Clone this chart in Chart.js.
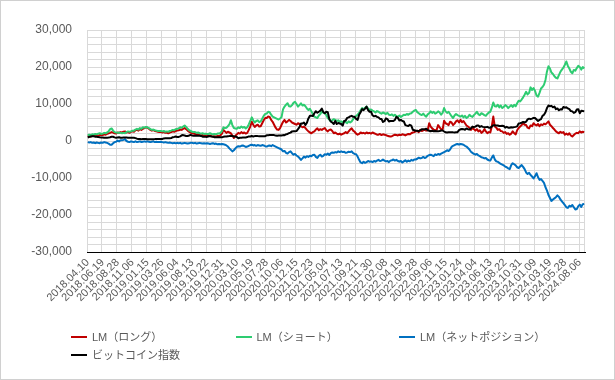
<!DOCTYPE html>
<html>
<head>
<meta charset="utf-8">
<script src="https://cdn.jsdelivr.net/npm/chart.js@4.4.1/dist/chart.umd.min.js"></script>
<style>
html,body{margin:0;padding:0;background:#fff;}
#wrap{position:relative;width:615px;height:380px;overflow:hidden;background:#fff;}
#c{position:absolute;left:0;top:0;}
#frame{position:absolute;left:0;top:0;width:615px;height:380px;box-sizing:border-box;border:1px solid #d0d0d0;pointer-events:none;}
.lg{position:absolute;height:14px;line-height:14px;font-family:"Liberation Sans","Noto Sans CJK JP",sans-serif;font-size:11px;color:#595959;white-space:nowrap;}
.sw{position:absolute;width:16px;height:2px;}
</style>
</head>
<body>
<div id="wrap">
<canvas id="c" width="615" height="380"></canvas>
<div id="legend"></div>
<div id="frame"></div>
</div>
<script>
// ---- data (weekly, from 2018.04.10) ----
const startDate = "2018.04.10";
const tickLabels = ["2018.04.10","2018.06.19","2018.08.28","2018.11.06","2019.01.15","2019.03.26","2019.06.04","2019.08.13","2019.10.22","2019.12.31","2020.03.10","2020.05.19","2020.07.28","2020.10.06","2020.12.15","2021.02.23","2021.05.04","2021.07.13","2021.09.21","2021.11.30","2022.02.08","2022.04.19","2022.06.28","2022.09.06","2022.11.15","2023.01.24","2023.04.04","2023.06.13","2023.08.22","2023.10.31","2024.01.09","2024.03.19","2024.05.28","2024.08.06"];
const seriesNames = ["LM（ロング）","LM（ショート）","LM（ネットポジション）","ビットコイン指数"];

const lmLong = [
1200,1300,1200,1400,1350,1300,1500,1450,1600,1700,
1600,1800,1700,1900,2100,2200,2400,2300,2100,2000,
2300,2200,2400,2300,2500,2600,2300,2400,2200,2500,
2600,2500,2900,3000,2800,3200,3000,3300,3500,3700,
3600,3300,3000,2800,3000,2700,2600,2500,2400,2500,
2300,2400,2200,2300,2100,2300,2400,2600,2500,2700,
2800,2900,3100,3000,3300,3500,3200,2800,2500,2300,
2100,2000,1900,1700,1800,1600,1500,1600,1400,1500,
1400,1300,1500,1300,1200,1300,1200,1400,1300,1500,
2000,3000,2600,2200,2500,2300,2100,1500,800,1400,
1800,2200,2000,2400,2100,2300,2000,2200,3000,3900,
5200,4400,3800,4200,4400,3900,4000,4800,5600,6200,
6200,6600,6500,5700,5200,4400,3600,3100,3000,3500,
4400,5200,5700,5000,5300,5700,5400,5000,4800,4600,
4400,4800,4600,4000,3700,3900,3500,3000,2600,2300,
2100,2400,2600,3100,3400,2900,3200,3000,3300,3500,
2900,2600,3000,3100,2700,2100,2300,2000,1800,2000,
1700,1900,2100,2400,2100,2600,3100,3400,2800,2500,
2000,1700,1900,2300,2100,2200,2000,2300,2100,2200,
2000,2300,2100,1900,1700,1700,1900,1600,1800,1700,
1600,1400,1300,1200,1300,1500,1700,1600,1500,1700,
1600,1800,1700,1500,1700,1900,1800,2100,2300,2400,
2600,2700,2400,3000,2700,2900,3100,2800,2900,4800,
3900,3400,3100,2900,3000,4300,3700,3200,3000,5500,
4800,4600,4300,5200,5000,4300,4700,5300,5600,5000,
5700,5100,5400,4800,4200,3900,3600,3000,3500,3200,
2800,3200,2600,2900,2200,2500,3200,2600,2100,2400,
2300,4000,6600,3900,3600,3000,3200,2700,2600,2200,
2400,1900,2100,1700,2000,2600,2100,1800,2900,3500,
3900,4300,4800,4400,4300,3600,3400,4200,4000,4800,
4400,4200,4600,4000,4500,4300,4700,4500,4900,5300,
4400,4000,3500,3100,2600,2300,2100,2500,2200,2400,
1700,2000,1700,2100,1500,1200,1600,2000,2200,2100,
2600,2300,2500,2400];

const lmShort = [
1500,1700,1600,1800,1700,1900,1800,2000,2100,1900,
2000,2200,2100,2300,2600,3200,3400,2800,2400,2300,
2200,2300,2200,2100,2200,2100,2400,2600,2500,2600,
2800,2800,3100,3300,3100,3500,3300,3700,3600,3800,
3700,3500,3200,3000,3100,2900,2800,2700,2700,2700,
2600,2700,2500,2600,2500,2700,2800,3000,2900,3200,
3300,3400,3700,3600,3900,4200,3800,3300,2900,2700,
2500,2400,2400,2200,2300,2100,2000,2100,1900,2000,
1900,1900,2100,1900,1800,1900,1800,2000,2000,2200,
2700,3700,3500,3600,4000,4500,5600,4300,3500,3400,
3300,3700,3500,3900,3600,3800,3400,3700,4500,5400,
6400,5600,5000,5400,5600,5100,5300,6000,6800,7300,
7400,7900,7800,7100,6600,6400,6200,6000,5800,6100,
6500,8600,9300,9800,10200,9400,9300,9700,10300,10600,
10000,9300,9700,10200,9600,9800,9400,8800,8400,8700,
8000,7200,6600,6400,6200,6900,7300,8000,7600,7500,
7000,6200,5800,5300,5600,5900,5700,5400,5600,5200,
5300,5000,5400,5100,4800,5300,5000,5300,5900,6400,
6800,7100,7600,8300,8900,8500,9000,9300,8800,8400,
8500,8200,8000,7700,8100,7900,7600,7400,7700,7500,
7300,7600,7100,7000,7200,6800,7100,6700,6600,6900,
6500,6800,7100,7000,7300,7100,7400,7500,7900,8200,
8400,7800,7500,7200,7000,7400,6900,6600,7200,7500,
8000,7600,7900,7400,7600,8000,7700,7100,7600,8900,
8000,7600,7900,7300,6700,6200,6900,7300,7000,6800,
6600,6900,6400,6800,6200,6500,7100,6700,6500,7000,
7400,7900,7200,7000,7500,7300,7000,6800,7300,7700,
7900,9000,10400,9400,9300,9800,9100,9600,8900,9200,
9700,9400,8900,9300,9700,9200,9800,9400,10200,10900,
10700,11200,11800,12500,13300,12600,13000,14500,13800,14300,
13500,12300,12000,13000,14200,14600,15200,16500,18800,20200,
19600,18500,18100,17500,17100,16900,17800,18700,19300,19800,
20600,21500,20300,19600,18700,18300,19200,19000,19700,20300,
20000,19300,20000,19600];

const lmNet = [
-300,-400,-300,-500,-400,-600,-400,-500,-600,-400,
-500,-300,-400,-500,-700,-1000,-1000,-600,-300,-200,
100,-100,200,200,300,500,0,-200,-300,-100,
-200,-300,-100,-300,-200,-100,-300,-200,-100,-200,
-100,-200,-300,-200,-100,-300,-200,-300,-300,-200,
-300,-400,-300,-400,-500,-400,-500,-600,-500,-600,
-500,-600,-500,-700,-600,-500,-600,-700,-600,-500,
-500,-600,-500,-700,-600,-500,-600,-700,-600,-700,
-600,-700,-800,-700,-600,-800,-700,-900,-800,-900,
-800,-900,-1000,-1200,-1500,-2000,-2400,-2800,-2500,-2000,
-1600,-1400,-1500,-1300,-1200,-1400,-1600,-1500,-1300,-1100,
-1000,-1200,-1100,-1300,-1100,-1200,-1300,-1100,-1200,-1400,
-1500,-1300,-1200,-1400,-1100,-1300,-1500,-1700,-1900,-2100,
-2300,-2800,-2700,-3200,-3400,-3000,-2800,-3300,-3700,-3500,
-3900,-4200,-4600,-5100,-4700,-4200,-4500,-4100,-4300,-4000,
-4100,-3800,-3700,-4300,-4600,-4000,-3700,-4200,-4000,-3600,
-3700,-3400,-3800,-3300,-3100,-3200,-3000,-3100,-2800,-3000,
-2800,-3000,-2900,-3200,-3100,-2900,-3000,-2800,-3300,-3500,
-3600,-4200,-5100,-5800,-6000,-5600,-5900,-5700,-5400,-5600,
-5500,-5700,-5400,-5600,-5300,-5100,-5400,-5300,-5000,-5300,
-5500,-5400,-5700,-5300,-5200,-5000,-5300,-5100,-5400,-5600,
-5400,-5800,-5500,-5200,-5600,-5300,-5500,-5100,-5300,-5000,
-5000,-4800,-4500,-4700,-4600,-4300,-4600,-4400,-4000,-3800,
-3700,-3900,-4100,-3600,-3800,-3500,-3700,-3400,-3200,-3000,
-2800,-2500,-2700,-2300,-1600,-1300,-1100,-900,-800,-1000,
-800,-900,-1000,-1300,-1500,-1900,-2300,-2900,-3200,-3500,
-3700,-3500,-3900,-4100,-4400,-4500,-4700,-4600,-5000,-5200,
-5300,-4500,-3900,-5000,-5500,-5600,-5900,-6200,-6400,-6600,
-6900,-7100,-7400,-7600,-6500,-6000,-6300,-6600,-7100,-7300,
-6900,-6500,-7000,-7600,-8500,-8900,-8600,-9200,-9600,-10100,
-9500,-8700,-9800,-10500,-10300,-10800,-11300,-12500,-13400,-14600,
-15400,-16200,-15800,-15500,-15200,-14700,-15100,-15800,-16300,-16800,
-17300,-17900,-18100,-17500,-17700,-17300,-17900,-18500,-18400,-17600,
-17200,-17800,-17100,-17000];

const btcIndex = [
945,1110,1235,1290,1305,1180,1165,1055,1040,915,
930,850,890,905,930,1030,1140,1140,985,875,
970,1015,875,905,930,915,915,875,905,875,
890,875,780,625,555,515,470,515,555,555,
500,500,485,470,500,515,540,540,540,555,
555,695,720,735,720,750,790,1040,1110,1210,
1070,1110,1265,1530,1600,1470,1335,1360,1485,1655,
1500,1445,1405,1460,1430,1415,1360,1155,1140,1155,
1110,1290,1290,1220,1180,1030,1040,1040,1015,1015,
1000,1125,1220,1210,1305,1345,1430,1375,1220,1235,
1095,735,860,905,945,970,970,1055,1235,1220,
1345,1235,1320,1345,1320,1305,1280,1265,1290,1305,
1530,1570,1610,1640,1600,1600,1460,1400,1470,1485,
1470,1600,1585,1805,1915,2125,2265,2600,2640,2665,
2695,3195,3750,4720,4720,5000,4305,4930,6110,6805,
6805,6735,7500,8055,7640,7915,8195,8750,7780,7500,
7915,7780,5970,5280,5000,4585,5415,4585,4860,4720,
4585,4165,5415,5555,6250,6390,6665,6805,6530,6530,
5970,5695,7085,7780,8610,8335,8750,9305,8335,7915,
7915,6945,6665,6805,6530,6390,5970,5970,5140,5350,
6110,5905,5280,5415,5415,5415,5695,6530,6250,5555,
5695,5415,5280,4305,4165,4030,4375,4165,3055,2915,
2780,2780,2640,2845,3195,3195,3125,3335,2915,2780,
2640,2780,2640,2710,2640,2640,2710,2845,2845,2570,
2335,2290,2360,2360,2375,2335,2320,2360,2390,2915,
3155,3265,3195,3030,3400,3195,3085,3400,3890,3750,
3890,4165,4165,3820,4030,3820,3750,3750,3820,3585,
3610,3890,4235,4235,4210,4165,4055,4030,4095,4055,
3610,3820,3610,3585,3720,3640,3750,3820,3960,4720,
4790,4930,5140,5000,5210,5835,6040,5905,6055,6250,
6200,5800,5400,5700,5900,6800,7100,7800,8900,9600,
9400,9500,9100,9300,8600,8800,8300,8600,8500,9200,
9000,9100,8800,8600,8100,8000,7600,7800,8500,8600,
7500,8200,8100,8000];

const colors = ["#C00000","#2ECC71","#0070C0","#000000"];

// weekly category labels
const categories = (function(){
  const p = startDate.split('.').map(Number);
  const d0 = Date.UTC(p[0], p[1]-1, p[2]);
  const out = [];
  for (let i = 0; i < lmLong.length; i++) {
    const d = new Date(d0 + i*7*86400000);
    out.push(d.getUTCFullYear() + '.' + String(d.getUTCMonth()+1).padStart(2,'0') + '.' + String(d.getUTCDate()).padStart(2,'0'));
  }
  return out;
})();

const FONT = '"Liberation Sans","Noto Sans CJK JP",sans-serif';
Chart.defaults.font.family = FONT;
Chart.defaults.color = '#595959';

function fmt(v){ return String(v).replace(/\B(?=(\d{3})+(?!\d))/g, ','); }

const ds = [lmLong, lmShort, lmNet, btcIndex].map((arr, k) => ({
  label: seriesNames[k],
  data: arr,
  borderColor: colors[k],
  backgroundColor: colors[k],
  borderWidth: 2,
  pointRadius: 0,
  tension: 0,
  fill: false,
  borderJoinStyle: 'round',
  order: 4 - k
}));

new Chart(document.getElementById('c'), {
  type: 'line',
  data: { labels: categories, datasets: ds },
  options: {
    responsive: false,
    animation: false,
    devicePixelRatio: 1,
    layout: { padding: { left: 0, right: 30, top: 30, bottom: 53 } },
    plugins: { legend: { display: false }, tooltip: { enabled: false } },
    scales: {
      x: {
        type: 'category',
        offset: true,
        grid: {
          offset: true,
          drawTicks: false,
          color: (ctx) => (ctx.type === 'scale' || ctx.index === undefined || ctx.index % 10 === 0) ? '#d9d9d9' : 'rgba(0,0,0,0)'
        },
        border: { display: true, color: '#000000', width: 1 },
        ticks: {
          autoSkip: false,
          minRotation: 45,
          maxRotation: 45,
          padding: 4,
          color: '#595959',
          font: { size: 11, family: FONT },
          callback: function(value, index) {
            const lab = this.getLabelForValue(value);
            return (index % 10 === 0 && tickLabels.indexOf(lab) >= 0) ? lab : '';
          }
        },
        afterFit: (s) => { s.height = 75; }
      },
      y: {
        min: -30000,
        max: 30000,
        grid: { color: '#d9d9d9', drawTicks: false },
        border: { display: false },
        ticks: {
          autoSkip: false,
          stepSize: 2000,
          padding: 15,
          color: '#595959',
          font: { size: 12, family: FONT },
          callback: (v) => (v % 10000 === 0) ? fmt(v) : ''
        },
        afterFit: (s) => { s.width = 87; }
      }
    }
  }
});

// legend (HTML)
const legendPos = [[71, 337], [235.5, 337], [399, 337], [71, 355]];
const lg = document.getElementById('legend');
seriesNames.forEach((name, k) => {
  const [x, y] = legendPos[k];
  const sw = document.createElement('div');
  sw.className = 'sw';
  sw.style.left = x + 'px';
  sw.style.top = (y - 1) + 'px';
  sw.style.background = colors[k];
  lg.appendChild(sw);
  const t = document.createElement('div');
  t.className = 'lg';
  t.style.left = (x + 21) + 'px';
  t.style.top = (y - 7) + 'px';
  t.textContent = name;
  lg.appendChild(t);
});
</script>
</body>
</html>
